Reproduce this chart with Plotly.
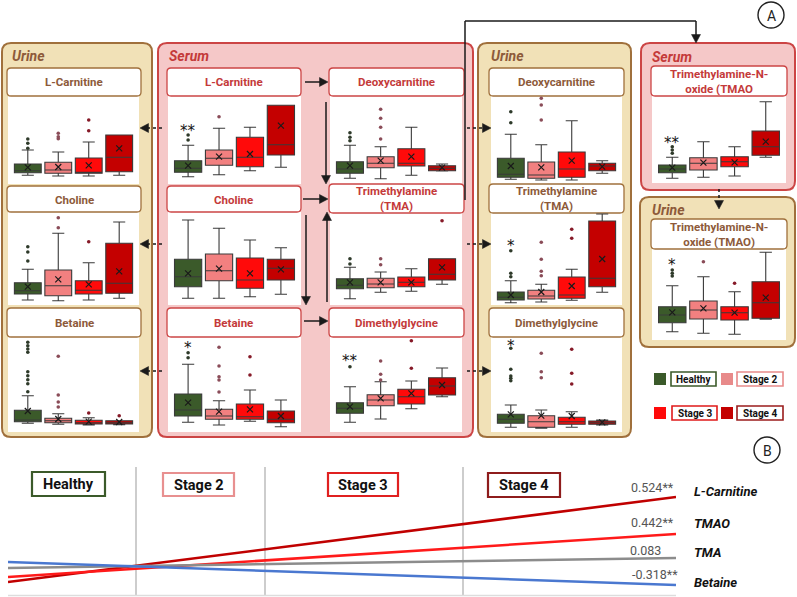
import math
import plotly.graph_objects as go

# ---------------- DATA ----------------
stages = ["Healthy", "Stage 2", "Stage 3", "Stage 4"]

# box statistics per stage: (q1, median, q3, lower whisker, upper whisker, mean)  [relative units]
urine_lcarnitine_stats = [(11.3, 13.3, 20, 8.7, 34, 16.7), (10.7, 14, 21.7, 8, 32, 17),
                          (10.7, 11.7, 26, 8, 42, 18.7), (12.3, 26.7, 49, 8.7, 49, 35.7)]
urine_lcarnitine_outliers = [[45, 40.7, 35.7], [50.7, 47.3, 45.3], [64, 53.3], []]

urine_choline_stats = [(11, 14.3, 22.3, 5, 35.7, 18.3), (9.3, 19.3, 35, 4.3, 71.7, 25.7),
                       (11, 14.7, 24.3, 5, 42.3, 20.7), (11.7, 21.7, 61.7, 6.7, 83, 33.7)]
urine_choline_outliers = [[58.3, 53, 44], [87.3, 77.3], [63.3], []]

urine_betaine_stats = [(10.3, 12, 21.7, 8.7, 36.3, 21), (9.3, 11.3, 13.7, 7.7, 18.3, 13),
                       (8, 9.3, 11.7, 7, 14.3, 10.3), (8, 9.3, 11.3, 7.3, 11.3, 10)]
urine_betaine_outliers = [[89.7, 86.3, 83, 79.7, 60.3, 56.3, 52.3, 48.3, 40.3], [75.7, 37, 30, 25], [19], [16.3]]

serum_lcarnitine_stats = [(11.7, 15.7, 23.3, 7.3, 38.7, 18.3), (18.7, 25.7, 34, 9.3, 55.7, 27.3),
                          (17.3, 26.7, 46.7, 13.3, 56.7, 30), (29, 39.3, 78.7, 16.7, 78.7, 58.3)]
serum_lcarnitine_outliers = [[49, 44], [67.3], [], []]

serum_choline_stats = [(18.3, 28.3, 45.7, 6.7, 85, 31.7), (24.3, 34.3, 51, 6.7, 76.7, 36.3),
                       (16.7, 25, 47, 8.3, 65, 31.7), (25, 36.7, 45.7, 10.7, 57.3, 35.7)]
serum_choline_outliers = [[], [], [], []]

serum_betaine_stats = [(16, 22, 38, 9.7, 67.7, 29.3), (12.7, 16, 22.7, 7, 31.3, 20.3),
                       (12.7, 15.3, 28, 10.7, 42, 22.7), (9.3, 12.7, 21, 5.3, 32, 16)]
serum_betaine_outliers = [[79.3, 74.3], [84.7, 66, 55.3, 52, 40], [75.3, 57], []]

serum_deoxycarnitine_stats = [(10.7, 15, 22.3, 5.7, 38.7, 18.3), (16.3, 20.7, 27.3, 5.3, 37.3, 23.3),
                              (18, 20.7, 35.3, 8.7, 56.7, 27.3), (13.3, 15.7, 18.3, 13, 20, 16.3)]
serum_deoxycarnitine_outliers = [[51.3, 46.7, 43.3], [74.7, 65.7, 56.7, 45], [], []]

serum_tma_stats = [(16.3, 19.7, 26.3, 6.3, 37.7, 22.7), (17.3, 21, 26.7, 12.7, 33, 22.7),
                   (18.3, 22.7, 28, 13.7, 36.3, 22.7), (25, 30.7, 46.3, 20.7, 46.3, 37.7)]
serum_tma_outliers = [[46.3, 41], [46.3, 40.3], [], [84.3]]

serum_dmg_stats = [(18.7, 23.7, 29.3, 9.7, 45.3, 25.3), (26.3, 32, 37.3, 13, 50.3, 33.7),
                   (28, 35.3, 42.7, 23.3, 51, 38.7), (37, 46, 54.3, 35.3, 64, 47)]
serum_dmg_outliers = [[65.3], [71, 57.7, 52], [91.3, 63.7], []]

urine_deoxycarnitine_stats = [(6.7, 9.7, 25.7, 4.7, 49.7, 18), (5.7, 9, 22, 4, 39.3, 16.7),
                              (6.7, 15, 32, 4, 63.3, 23.3), (13.3, 18, 20.7, 10.7, 23.3, 17.3)]
urine_deoxycarnitine_outliers = [[72.3, 61.3], [85.7, 79, 64], [], []]

urine_tma_stats = [(5, 7.7, 13, 2.3, 24.3, 10), (6, 9, 14.7, 3, 20.7, 13),
                   (6.7, 10, 28, 4.7, 35.7, 19), (18.3, 26.7, 84, 12.7, 91, 46)]
urine_tma_outliers = [[54.3, 31.7, 28.3], [62.7, 45.7, 33.7, 29.3], [75.7, 66.7], []]

urine_dmg_stats = [(8.7, 12.7, 17.7, 4.7, 27, 17.7), (4.7, 10.3, 16.3, 3.7, 22, 16.3),
                   (7.7, 10.3, 14.7, 4.7, 20.3, 16), (7.7, 9.3, 11, 7, 12, 9.7)]
urine_dmg_outliers = [[83.7, 62.7, 56, 53.7, 51.3], [78.7, 60.3, 54.3], [82.7, 58.7, 48], []]

serum_tmao_stats = [(10.3, 14, 18, 4.7, 25.7, 15.3), (13, 19.7, 25.3, 5.7, 41.3, 20.3),
                    (16.3, 21.3, 26.3, 7, 36.3, 20.7), (27.7, 36.3, 52, 25.7, 81.3, 41.3)]
serum_tmao_outliers = [[36.3, 33, 29.7], [], [], []]

urine_tmao_stats = [(17.3, 25, 33.3, 8.3, 54.3, 27.7), (21, 30, 39, 6.7, 63.3, 31.7),
                    (20, 27.3, 33.3, 5.7, 48.3, 27.3), (21.7, 37.3, 58.3, 20.7, 87.7, 42.3)]
urine_tmao_outliers = [[70, 66.7, 64], [78.3], [56.7], []]

# significance marks on the Healthy group: (text, level)
serum_lcarnitine_sig = ("**", 55.7)
serum_betaine_sig = ("*", 87)
serum_dmg_sig = ("**", 73.7)
urine_tma_sig = ("*", 61.7)
urine_dmg_sig = ("*", 88.7)
serum_tmao_sig = ("**", 43)
urine_tmao_sig = ("*", 78.3)

# bottom correlation trend lines (start level, end level)
trend_names = ["L-Carnitine", "TMAO", "TMA", "Betaine"]
trend_corr = ["0.524**", "0.442**", "0.083", "-0.318**"]
trend_start = [13, 18, 27, 33]
trend_end = [98, 61, 37, 10]
trend_x = [0, 100]

# ---------------- STYLE / LAYOUT ----------------
W, H = 797, 597
FONT = "Roboto"


def X(px):
    return px / W


def Y(py):
    return 1 - py / H


box_fill = ["#3b5a2a", "#f28080", "#ff0a0a", "#c40000"]
out_col = ["#2e3a2a", "#8a4c58", "#861a28", "#861a28"]
trend_colors = ["#c00000", "#ff1a1a", "#8c8c8c", "#4a78d0"]

URINE_FILL, URINE_LINE, URINE_TXT = "#f1e1b7", "#a0703c", "#8d5a3a"
SERUM_FILL, SERUM_LINE, SERUM_TXT = "#f5c8c8", "#cc4545", "#c43a3a"

shapes = []
annotations = []


def rrect(x0, y0, x1, y1, r, fill, line, lw, layer="below"):
    path = (f"M {X(x0 + r)},{Y(y0)} L {X(x1 - r)},{Y(y0)} Q {X(x1)},{Y(y0)} {X(x1)},{Y(y0 + r)} "
            f"L {X(x1)},{Y(y1 - r)} Q {X(x1)},{Y(y1)} {X(x1 - r)},{Y(y1)} "
            f"L {X(x0 + r)},{Y(y1)} Q {X(x0)},{Y(y1)} {X(x0)},{Y(y1 - r)} "
            f"L {X(x0)},{Y(y0 + r)} Q {X(x0)},{Y(y0)} {X(x0 + r)},{Y(y0)} Z")
    shapes.append(dict(type="path", path=path, xref="paper", yref="paper", fillcolor=fill,
                       line=dict(color=line, width=lw), layer=layer))


def rect(x0, y0, x1, y1, fill, line=None, lw=0, layer="below"):
    shapes.append(dict(type="rect", xref="paper", yref="paper", x0=X(x0), x1=X(x1), y0=Y(y1), y1=Y(y0),
                       fillcolor=fill, line=dict(color=line or fill, width=lw), layer=layer))


def text(x, y, s, size=11, color="#000", xanchor="center", yanchor="middle", family=FONT):
    annotations.append(dict(x=X(x), y=Y(y), xref="paper", yref="paper", text=s, showarrow=False,
                            xanchor=xanchor, yanchor=yanchor, font=dict(size=size, color=color, family=family)))


def arrow(points, dash=None, color="#1a1a1a", lw=1.5):
    L, hw = 8.5, 4.5
    (xa, ya), (xb, yb) = points[-2], points[-1]
    d = math.hypot(xb - xa, yb - ya)
    ux, uy = (xb - xa) / d, (yb - ya) / d
    bx, by = xb - ux * L, yb - uy * L
    pts = list(points[:-1]) + [(bx + ux * 1, by + uy * 1)]
    for (x0, y0), (x1, y1) in zip(pts[:-1], pts[1:]):
        shapes.append(dict(type="line", xref="paper", yref="paper", x0=X(x0), y0=Y(y0), x1=X(x1), y1=Y(y1),
                           line=dict(color=color, width=lw, dash=dash), layer="above"))
    p1 = (bx - uy * hw, by + ux * hw)
    p2 = (bx + uy * hw, by - ux * hw)
    shapes.append(dict(type="path", xref="paper", yref="paper", layer="above",
                       path=f"M {X(xb)},{Y(yb)} L {X(p1[0])},{Y(p1[1])} L {X(p2[0])},{Y(p2[1])} Z",
                       fillcolor=color, line=dict(color=color, width=0.5)))


# ---- outer panels ----
rrect(2, 43, 152, 437, 9, URINE_FILL, URINE_LINE, 2)
rrect(158, 43, 473, 437, 9, SERUM_FILL, SERUM_LINE, 2)
rrect(478, 43, 631, 437, 9, URINE_FILL, URINE_LINE, 2)
rrect(641, 43, 795, 190, 9, SERUM_FILL, SERUM_LINE, 2)
rrect(640, 197, 795, 347, 9, URINE_FILL, URINE_LINE, 2)

text(10, 56, "<b><i>Urine</i></b>", 14, URINE_TXT, "left")
text(167, 56, "<b><i>Serum</i></b>", 14, SERUM_TXT, "left")
text(489, 56, "<b><i>Urine</i></b>", 14, URINE_TXT, "left")
text(650, 57, "<b><i>Serum</i></b>", 14, SERUM_TXT, "left")
text(650, 210, "<b><i>Urine</i></b>", 14, URINE_TXT, "left")

# column plot x ranges and title box x ranges
COLS = {"UL": ((8, 139), (7, 141)), "SL": ((168, 301), (167, 301)), "SR": ((330, 462), (329, 464)),
        "UR": ((491, 622), (489, 624)), "TM": ((652, 786), (651, 787))}
ROWS = {"R1": ((96, 184), (68, 96)), "R2": ((212, 305), (186, 212)), "R2b": ((213, 305), (184, 213)),
        "R3": ((337, 432), (308, 337)), "TS": ((96, 183), (66, 96)), "TU": ((249, 340), (219, 249))}

panels = [
    ("L-Carnitine", "UL", "R1", "U", urine_lcarnitine_stats, urine_lcarnitine_outliers, None),
    ("Choline", "UL", "R2", "U", urine_choline_stats, urine_choline_outliers, None),
    ("Betaine", "UL", "R3", "U", urine_betaine_stats, urine_betaine_outliers, None),
    ("L-Carnitine", "SL", "R1", "S", serum_lcarnitine_stats, serum_lcarnitine_outliers, serum_lcarnitine_sig),
    ("Choline", "SL", "R2", "S", serum_choline_stats, serum_choline_outliers, None),
    ("Betaine", "SL", "R3", "S", serum_betaine_stats, serum_betaine_outliers, serum_betaine_sig),
    ("Deoxycarnitine", "SR", "R1", "S", serum_deoxycarnitine_stats, serum_deoxycarnitine_outliers, None),
    ("Trimethylamine<br>(TMA)", "SR", "R2b", "S", serum_tma_stats, serum_tma_outliers, None),
    ("Dimethylglycine", "SR", "R3", "S", serum_dmg_stats, serum_dmg_outliers, serum_dmg_sig),
    ("Deoxycarnitine", "UR", "R1", "U", urine_deoxycarnitine_stats, urine_deoxycarnitine_outliers, None),
    ("Trimethylamine<br>(TMA)", "UR", "R2b", "U", urine_tma_stats, urine_tma_outliers, urine_tma_sig),
    ("Dimethylglycine", "UR", "R3", "U", urine_dmg_stats, urine_dmg_outliers, urine_dmg_sig),
    ("Trimethylamine-N-<br>oxide (TMAO", "TM", "TS", "S", serum_tmao_stats, serum_tmao_outliers, serum_tmao_sig),
    ("Trimethylamine-N-<br>oxide (TMAO)", "TM", "TU", "U", urine_tmao_stats, urine_tmao_outliers, urine_tmao_sig),
]

fig = go.Figure()
layout_axes = {}

for n, (title, col, row, kind, stats, outs, sig) in enumerate(panels, start=1):
    (px0, px1), (tx0, tx1) = COLS[col]
    (py0, py1), (ty0, ty1) = ROWS[row]
    tcol = URINE_TXT if kind == "U" else SERUM_TXT
    lcol = URINE_LINE if kind == "U" else SERUM_LINE
    rect(px0, py0, px1, py1, "white")
    rrect(tx0, ty0, tx1, ty1, 4, "white", lcol, 1.3)
    text((tx0 + tx1) / 2, (ty0 + ty1) / 2 + 0.5, f"<b>{title}</b>", 11.5, tcol)

    xa = "x" if n == 1 else f"x{n}"
    ya = "y" if n == 1 else f"y{n}"
    kx = "xaxis" if n == 1 else f"xaxis{n}"
    ky = "yaxis" if n == 1 else f"yaxis{n}"
    layout_axes[kx] = dict(domain=[X(px0), X(px1)], range=[-0.65, 3.65], visible=False, anchor=ya, fixedrange=True)
    layout_axes[ky] = dict(domain=[Y(py1), Y(py0)], range=[0, py1 - py0], visible=False, anchor=xa, fixedrange=True)

    for i, (q1, med, q3, lo, hi, mean) in enumerate(stats):
        fig.add_trace(go.Box(x=[i], q1=[q1], median=[med], q3=[q3], lowerfence=[lo], upperfence=[hi],
                             fillcolor=box_fill[i], line=dict(color="#3a3a3a", width=1.1), width=0.88,
                             whiskerwidth=0.45, boxpoints=False, xaxis=xa, yaxis=ya, showlegend=False,
                             hoverinfo="skip", name=stages[i]))
        if outs[i]:
            fig.add_trace(go.Scatter(x=[i] * len(outs[i]), y=outs[i], mode="markers",
                                     marker=dict(size=3.6, color=out_col[i]), xaxis=xa, yaxis=ya,
                                     showlegend=False, hoverinfo="skip"))
    fig.add_trace(go.Scatter(x=list(range(4)), y=[s[5] for s in stats], mode="markers",
                             marker=dict(symbol="x-thin", size=6, line=dict(width=1.2, color="#1a1a1a")),
                             xaxis=xa, yaxis=ya, showlegend=False, hoverinfo="skip"))
    if sig:
        annotations.append(dict(x=0, y=sig[1], xref=xa, yref=ya, text=sig[0], showarrow=False,
                                yshift=-3, font=dict(size=15, color="#111", family="DejaVu Sans")))

# ---- arrows ----
arrow([(305, 82), (328, 82)])
arrow([(303, 199), (328, 199)])
arrow([(304, 321), (328, 321)])
arrow([(326, 102), (326, 184)])
arrow([(306, 215), (306, 305)])
arrow([(327, 302), (327, 212)])
arrow([(465, 200), (465, 21), (696, 21), (696, 43)])
for yy in (128, 244, 371):
    arrow([(162, yy), (140, yy)], dash="3px,3px")
    arrow([(467, yy), (491, yy)], dash="3px,3px")
arrow([(719, 189), (719, 209)], dash="3px,3px")

# ---- legend ----
leg = [(654, 373, 0, 671, 716), (721, 373, 1, 737, 783), (654, 407, 2, 672, 717), (721, 407, 3, 737, 783)]
leg_line = ["#3b5a2a", "#e88a8a", "#e01a1a", "#9a1c1c"]
for sx, sy, i, bx0, bx1 in leg:
    rect(sx, sy, sx + 12, sy + 12, box_fill[i] if i != 1 else "#e88a8a")
    rect(bx0, sy - 1, bx1, sy + 13, "white", leg_line[i], 1.6)
    text((bx0 + bx1) / 2, sy + 6, f"<b>{stages[i]}</b>", 10, "#111")

# ---- circles A / B ----
for cx, cy, lab in ((771, 15, "A"), (767, 450, "B")):
    shapes.append(dict(type="circle", xref="paper", yref="paper", x0=X(cx - 13), x1=X(cx + 13),
                       y0=Y(cy + 13), y1=Y(cy - 13), fillcolor="white", line=dict(color="#222", width=1.4)))
    text(cx, cy + 0.5, lab, 14, "#222")

# ---- bottom trend chart ----
for sx in (136, 265, 463):
    shapes.append(dict(type="line", xref="paper", yref="paper", x0=X(sx), x1=X(sx), y0=Y(595), y1=Y(467),
                       line=dict(color="#bdbdbd", width=1.5), layer="below"))
shapes.append(dict(type="line", xref="paper", yref="paper", x0=X(8), x1=X(676), y0=Y(595.5), y1=Y(595.5),
                   line=dict(color="#dddddd", width=1.5), layer="below"))

stage_boxes = [(32, 472, 105, 496), (163, 473, 234, 496), (328, 473, 398, 496), (488, 473, 560, 497)]
stage_box_line = ["#3b5a2a", "#e89090", "#e02020", "#8e1c1c"]
for i, (x0, y0, x1, y1) in enumerate(stage_boxes):
    rect(x0, y0, x1, y1, "white", stage_box_line[i], 2.2)
    text((x0 + x1) / 2, (y0 + y1) / 2 + 0.5, f"<b>{stages[i]}</b>", 14.5, "#111")

nb = len(panels) + 1
layout_axes[f"xaxis{nb}"] = dict(domain=[X(8), X(676)], range=[0, 100], visible=False, anchor=f"y{nb}", fixedrange=True)
layout_axes[f"yaxis{nb}"] = dict(domain=[Y(595), Y(467)], range=[0, 128], visible=False, anchor=f"x{nb}", fixedrange=True)
for k in range(len(trend_names)):
    fig.add_trace(go.Scatter(x=trend_x, y=[trend_start[k], trend_end[k]], mode="lines",
                             line=dict(color=trend_colors[k], width=2.6), xaxis=f"x{nb}", yaxis=f"y{nb}",
                             showlegend=False, hoverinfo="skip"))

val_pos = [(676, 487), (676, 522), (663, 550), (680, 574)]
name_pos = [(692, 491), (692, 523), (692, 552), (692, 582)]
for k in range(len(trend_names)):
    text(val_pos[k][0], val_pos[k][1], trend_corr[k], 12.5, "#555", "right")
    text(name_pos[k][0], name_pos[k][1], f"<b><i>{trend_names[k]}</i></b>", 13, "#111", "left")

fig.update_layout(width=W, height=H, autosize=False, margin=dict(l=0, r=0, t=0, b=0),
                  paper_bgcolor="white", plot_bgcolor="rgba(0,0,0,0)", template="none",
                  shapes=shapes, annotations=annotations, boxmode="overlay",
                  font=dict(family=FONT), **layout_axes)
fig.write_html("out.html", config={"displayModeBar": False},
               post_script="document.body.style.margin='0';document.body.style.overflow='hidden';")
